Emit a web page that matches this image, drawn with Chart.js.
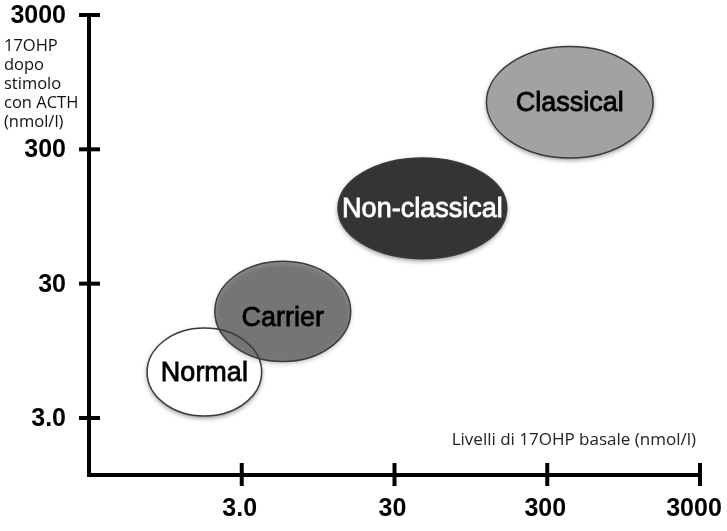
<!DOCTYPE html>
<html>
<head>
<meta charset="utf-8">
<script src="https://cdn.jsdelivr.net/npm/chart.js@4/dist/chart.umd.min.js"></script>
<style>
  html, body { margin: 0; padding: 0; background: #ffffff; }
  #wrap { width: 727px; height: 531px; position: relative; }
</style>
</head>
<body>
<div id="wrap"><canvas id="c" width="727" height="531"></canvas></div>
<script>
// ---- data (all values in nmol/l, log-log axes) ----
const groups      = ['Normal', 'Carrier', 'Non-classical', 'Classical'];
// basal 17OHP extent of each region (left / right edge)
const basalMin    = [0.72, 2.0, 12.8, 120];
const basalMax    = [4.05, 15.5, 163, 1480];
// stimulated 17OHP extent of each region (bottom / top edge)
const stimMin     = [3.1, 7.9, 46, 259];
const stimMax     = [14.0, 44, 259, 1750];
const fillColors  = ['#ffffff', 'rgba(70,70,70,0.6)', '#343434', '#a2a2a2'];
const textColors  = ['#000000', '#000000', '#ffffff', '#000000'];
const xTickValues = [3, 30, 300, 3000];
const xTickLabels = ['3.0', '30', '300', '3000'];
const yTickValues = [3, 30, 300, 3000];
const yTickLabels = ['3.0', '30', '300', '3000'];
const xTitle = 'Livelli di 17OHP basale (nmol/l)';
const yTitle = ['17OHP', 'dopo', 'stimolo', 'con ACTH', '(nmol/l)'];

const regionData = groups.map((g, i) => ({
  x: Math.sqrt(basalMin[i] * basalMax[i]),
  y: Math.sqrt(stimMin[i] * stimMax[i]),
  x0: basalMin[i], x1: basalMax[i], y0: stimMin[i], y1: stimMax[i]
}));

const ellipsePlugin = {
  id: 'ellipses',
  beforeDatasetsDraw(chart) {
    const ctx = chart.ctx;
    const xs = chart.scales.x, ys = chart.scales.y;
    regionData.forEach((d, i) => {
      const l = xs.getPixelForValue(d.x0), r = xs.getPixelForValue(d.x1);
      const t = ys.getPixelForValue(d.y1), b = ys.getPixelForValue(d.y0);
      const cx = (l + r) / 2, cy = (t + b) / 2;
      ctx.save();
      ctx.beginPath();
      ctx.ellipse(cx, cy, (r - l) / 2, (b - t) / 2, 0, 0, Math.PI * 2);
      ctx.shadowColor = 'rgba(0,0,0,0.45)';
      ctx.shadowBlur = 5;
      ctx.shadowOffsetY = 2;
      ctx.fillStyle = fillColors[i];
      ctx.fill();
      ctx.shadowColor = 'transparent';
      ctx.lineWidth = 1.5;
      ctx.strokeStyle = '#3a3a3a';
      ctx.stroke();
      ctx.restore();
    });
    regionData.forEach((d, i) => {
      const l = xs.getPixelForValue(d.x0), r = xs.getPixelForValue(d.x1);
      const t = ys.getPixelForValue(d.y1), b = ys.getPixelForValue(d.y0);
      const cx = (l + r) / 2, cy = (t + b) / 2;
      ctx.save();
      ctx.font = '27px "Liberation Sans", Arial, sans-serif';
      ctx.textAlign = 'center';
      ctx.textBaseline = 'middle';
      ctx.fillStyle = textColors[i];
      ctx.strokeStyle = textColors[i];
      ctx.lineWidth = 0.8;
      const dy = i === 1 ? 7 : 1;
      ctx.fillText(groups[i], cx, cy + dy);
      ctx.strokeText(groups[i], cx, cy + dy);
      ctx.restore();
    });
  },
  afterDraw(chart) {
    const ctx = chart.ctx;
    const xs = chart.scales.x, ys = chart.scales.y;
    const a = chart.chartArea;
    ctx.save();
    ctx.strokeStyle = '#000';
    ctx.lineWidth = 4;
    ctx.lineCap = 'butt';
    // y axis line
    ctx.beginPath();
    ctx.moveTo(a.left, ys.getPixelForValue(3000) - 1);
    ctx.lineTo(a.left, a.bottom + 2);
    ctx.stroke();
    // x axis line
    ctx.beginPath();
    ctx.moveTo(a.left - 2, a.bottom);
    ctx.lineTo(xs.getPixelForValue(3000) + 1, a.bottom);
    ctx.stroke();
    // ticks
    yTickValues.forEach(v => {
      const y = ys.getPixelForValue(v);
      ctx.beginPath(); ctx.moveTo(a.left - 10, y); ctx.lineTo(a.left + 11, y); ctx.stroke();
    });
    xTickValues.forEach(v => {
      const x = xs.getPixelForValue(v);
      ctx.beginPath(); ctx.moveTo(x, a.bottom - 12); ctx.lineTo(x, a.bottom + 11); ctx.stroke();
    });
    // tick labels
    ctx.fillStyle = '#000';
    ctx.font = 'bold 25px "Liberation Sans", Arial, sans-serif';
    ctx.textBaseline = 'middle';
    ctx.textAlign = 'right';
    yTickValues.forEach((v, i) => ctx.fillText(yTickLabels[i], a.left - 23, ys.getPixelForValue(v) + 1));
    ctx.textAlign = 'center';
    xTickValues.forEach((v, i) => {
      const x = xs.getPixelForValue(v);
      ctx.fillText(xTickLabels[i], i === 3 ? x - 6 : x - 2, a.bottom + 34);
    });
    // axis titles
    ctx.font = '16.5px "Open Sans", sans-serif';
    ctx.fillStyle = '#111';
    ctx.textAlign = 'left';
    ctx.textBaseline = 'middle';
    yTitle.forEach((s, i) => ctx.fillText(s, 4, 46 + i * 19));
    ctx.font = '17px "Open Sans", sans-serif';
    ctx.fillStyle = '#222';
    ctx.textAlign = 'right';
    ctx.fillText(xTitle, 696, 440);
    ctx.restore();
  }
};

new Chart(document.getElementById('c'), {
  type: 'scatter',
  data: {
    datasets: [{
      label: 'Regions',
      data: regionData,
      pointRadius: 0,
      pointHoverRadius: 0
    }]
  },
  options: {
    responsive: false,
    animation: false,
    events: [],
    layout: { padding: { left: 89, right: 27, top: 15, bottom: 56 } },
    plugins: { legend: { display: false }, tooltip: { enabled: false } },
    scales: {
      x: { type: 'logarithmic', min: 0.323, max: 3000, display: false },
      y: { type: 'logarithmic', min: 1.129, max: 3000, display: false }
    }
  },
  plugins: [ellipsePlugin]
});
</script>
</body>
</html>
